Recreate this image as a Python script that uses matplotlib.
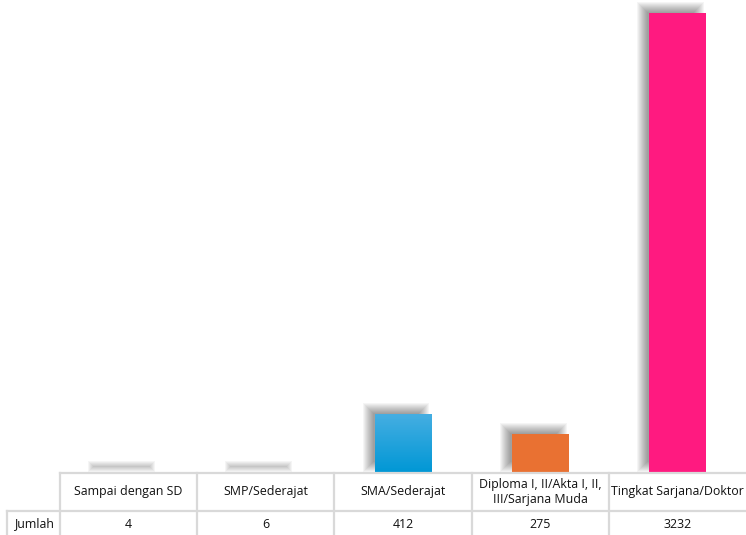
import matplotlib.pyplot as plt
import numpy as np
from matplotlib.patches import Rectangle
from matplotlib.lines import Line2D
from matplotlib.colors import LinearSegmentedColormap

plt.rcParams['font.family'] = ['Open Sans', 'DejaVu Sans']

# data
categories = ['Sampai dengan SD', 'SMP/Sederajat', 'SMA/Sederajat',
              'Diploma I, II/Akta I, II,\nIII/Sarjana Muda', 'Tingkat Sarjana/Doktor']
values = [4, 6, 412, 275, 3232]
row_label = 'Jumlah'
bar_colors = ['#D0D0D0', '#D0D0D0', '#0C9FDC', '#E97132', '#FF1A80']

W, H = 746, 535
fig = plt.figure(figsize=(W / 100, H / 100), dpi=100)

# plot area in pixels
x0, x1 = 60, 746
ybase, ytop = 473, 0
ax = fig.add_axes([x0 / W, (H - ybase) / H, (x1 - x0) / W, (ybase - ytop) / H])
n = len(values)
ymax = 3322
ax.axis('off')

px_x = 1.0 / ((x1 - x0) / n)        # data units per pixel, x
px_y = ymax / (ybase - ytop)        # data units per pixel, y
width = 0.415

# soft shadows: bar shifted up-left and blurred
for i, v in enumerate(values):
    for pad in range(-5, 6):
        h = v + 2 * pad * px_y
        if h <= 0:
            continue
        ax.add_patch(Rectangle((i - width / 2 - 7 * px_x - pad * px_x,
                                (6 - pad) * px_y),
                               width + 2 * pad * px_x, h,
                               facecolor='black', alpha=0.04,
                               edgecolor='none', zorder=1, clip_on=False))

bars = ax.bar(range(n), values, width=width, color=bar_colors, zorder=3)

# gradient on the blue bar
b = bars[2]
grad = np.linspace(0, 1, 100).reshape(-1, 1)
cm = LinearSegmentedColormap.from_list('bl', ['#0097D5', '#45AEE2'])
im = ax.imshow(grad, cmap=cm, aspect='auto', origin='lower', zorder=4,
               extent=[b.get_x(), b.get_x() + b.get_width(), 0, b.get_height()])
im.set_clip_path(b)
ax.set_xlim(-0.5, n - 0.5)
ax.set_ylim(0, ymax)

# data table drawn below the axes
grid = '#D9D9D9'
col_w = (x1 - x0) / n
hdr_bot = 511
lab_x = 7


def fx(x):
    return x / W


def fy(y):
    return 1 - y / H


lines = [((x0, x1), (ybase, ybase)), ((lab_x, x1), (hdr_bot, hdr_bot)),
         ((lab_x, lab_x), (hdr_bot, H)), ((x0, x0), (ybase, H))]
for j in range(1, n):
    xx = x0 + j * col_w
    lines.append(((xx, xx), (ybase, H)))
for (xs, ys) in lines:
    fig.add_artist(Line2D([fx(xs[0]), fx(xs[1])], [fy(ys[0]), fy(ys[1])],
                          color=grid, lw=1.6))

for j, cat in enumerate(categories):
    cx = x0 + (j + 0.5) * col_w
    fig.text(fx(cx), fy((ybase + hdr_bot) / 2), cat, ha='center', va='center',
             fontsize=8.9, color='#111111', linespacing=1.25)
    fig.text(fx(cx), fy((hdr_bot + H) / 2 + 1), str(values[j]), ha='center',
             va='center', fontsize=8.9, color='#111111')
fig.text(fx((lab_x + x0) / 2), fy((hdr_bot + H) / 2 + 1), row_label,
         ha='center', va='center', fontsize=8.9, color='#111111')

plt.savefig('out.png', dpi=100)
